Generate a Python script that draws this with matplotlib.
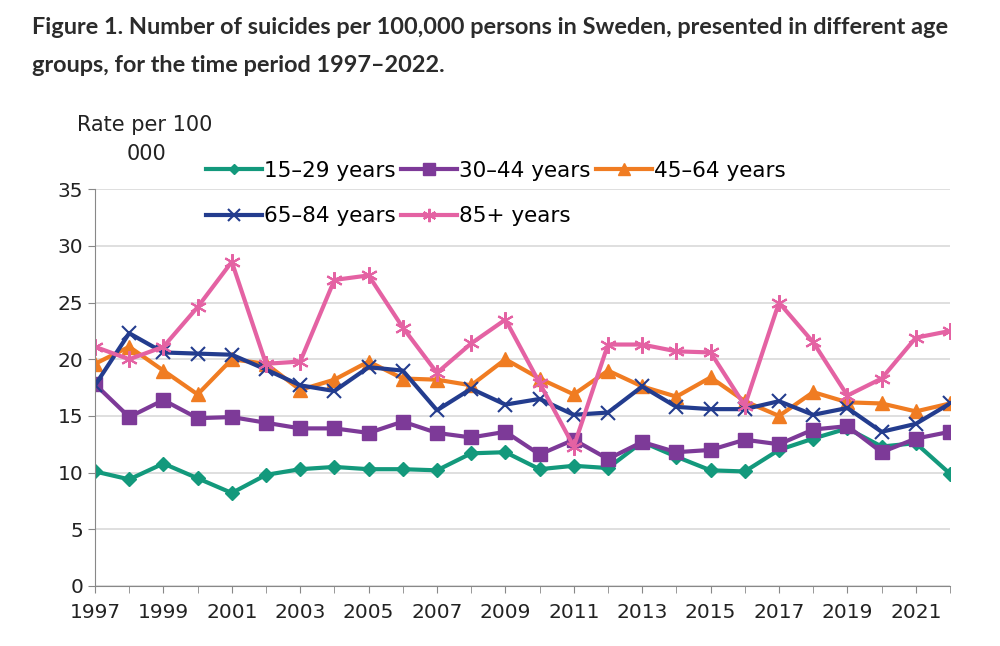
import matplotlib
matplotlib.use("Agg")
import matplotlib.pyplot as plt
import numpy as np

years = list(range(1997, 2023))
labels = ['15\u201329 years', '30\u201344 years', '45\u201364 years', '65\u201384 years', '85+ years']

age_15_29 = [10.1, 9.4, 10.8, 9.5, 8.2, 9.8, 10.3, 10.5, 10.3, 10.3, 10.2, 11.7, 11.8,
             10.3, 10.6, 10.4, 12.7, 11.4, 10.2, 10.1, 12.0, 13.0, 13.9, 12.3, 12.6, 9.9]
age_30_44 = [17.8, 14.9, 16.4, 14.8, 14.9, 14.4, 13.9, 13.9, 13.5, 14.5, 13.5, 13.1, 13.6,
             11.6, 12.9, 11.2, 12.7, 11.8, 12.0, 12.9, 12.5, 13.8, 14.1, 11.8, 13.0, 13.6]
age_45_64 = [19.6, 21.1, 19.0, 16.9, 20.0, 19.6, 17.3, 18.2, 19.8, 18.3, 18.2, 17.7, 20.0,
             18.3, 16.9, 19.0, 17.6, 16.7, 18.4, 16.3, 15.0, 17.1, 16.2, 16.1, 15.4, 16.1]
age_65_84 = [17.7, 22.3, 20.6, 20.5, 20.4, 19.1, 17.7, 17.2, 19.3, 19.0, 15.5, 17.4, 16.0,
             16.5, 15.1, 15.3, 17.6, 15.8, 15.6, 15.6, 16.3, 15.1, 15.7, 13.6, 14.3, 16.1]
age_85 = [21.1, 20.0, 21.1, 24.6, 28.6, 19.6, 19.8, 27.0, 27.4, 22.8, 18.8, 21.4, 23.5,
          17.9, 12.3, 21.3, 21.3, 20.7, 20.6, 15.9, 25.0, 21.5, 16.8, 18.3, 21.9, 22.5]

series = [age_15_29, age_30_44, age_45_64, age_65_84, age_85]
colors = ['#13997c', '#7d3a98', '#f07c22', '#233c8e', '#e462a3']
markers = ['D', 's', '^', 'x', (6, 2, 0)]
msizes = [7, 10, 10, 10, 12]

plt.rcParams['font.family'] = ['DejaVu Sans']

fig = plt.figure(figsize=(10, 6.46), dpi=100)
ax = fig.add_axes([0.095, 0.093, 0.855, 0.614])

handles = []
for vals, lab, c, m, ms in zip(series, labels, colors, markers, msizes):
    h, = ax.plot(years, vals, color=c, lw=3, marker=m, markersize=ms,
                 markeredgewidth=1.5 if m in ('x',) or isinstance(m, tuple) else 1,
                 markeredgecolor=c, markerfacecolor=c, label=lab)
    handles.append(h)

ax.set_xlim(1997, 2022)
ax.set_ylim(0, 35)
ax.set_yticks(np.arange(0, 36, 5))
ax.set_xticks(years[::2])
ax.set_xticks(years, minor=True)
ax.tick_params(axis='both', which='both', labelsize=14.5, colors='#222222', length=5)
ax.tick_params(axis='both', which='both', color='#888888')
ax.tick_params(axis='x', pad=7)
ax.grid(axis='y', color='#d9d9d9', lw=1.2)
ax.set_axisbelow(True)
for s in ['top', 'right']:
    ax.spines[s].set_visible(False)
ax.spines['left'].set_color('#888888')
ax.spines['bottom'].set_color('#888888')

order = [0, 3, 1, 4, 2]
fig.legend([handles[i] for i in order], [labels[i] for i in order],
           ncol=3, frameon=False, loc='upper left', bbox_to_anchor=(0.195, 0.768),
           fontsize=15.5, handlelength=2.6, handletextpad=0.1, columnspacing=0.25,
           labelspacing=1.2, borderpad=0, markerscale=0.8)

fig.text(0.077, 0.822, 'Rate per 100', fontsize=15, color='#222222', va='top', ha='left')
fig.text(0.146, 0.777, '000', fontsize=15, color='#222222', va='top', ha='center')

title_font = dict(fontsize=16.9, fontweight='bold',
                  family=['Lato', 'DejaVu Sans'], color='#2b2b2b', ha='left', va='center')
fig.text(0.032, 1 - 28 / 646, 'Figure 1. Number of suicides per 100,000 persons in Sweden, '
         'presented in different age', **title_font)
fig.text(0.032, 1 - 65 / 646, 'groups, for the time period 1997\u20132022.', **title_font)

fig.savefig('out.png', dpi=100)
